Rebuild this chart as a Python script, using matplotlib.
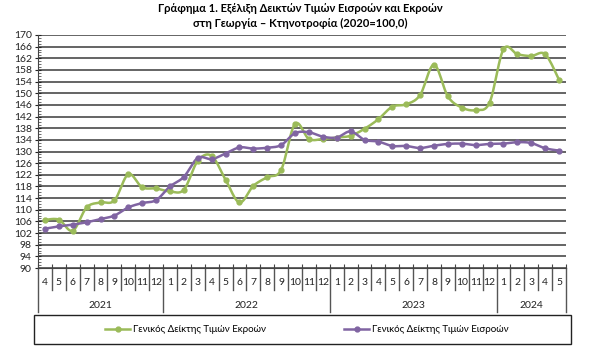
import matplotlib
matplotlib.use("Agg")
import matplotlib.pyplot as plt
import matplotlib.transforms as mtransforms
from matplotlib.patches import Rectangle
import numpy as np

plt.rcParams["font.family"] = ["Lato", "DejaVu Sans"]

# data (2020 = 100)
years = ["2021", "2022", "2023", "2024"]
months_per_year = [list(range(4, 13)), list(range(1, 13)), list(range(1, 13)), list(range(1, 6))]
output_idx = [106.5, 106.6, 102.8, 110.8, 112.5, 113.2, 122.2, 117.7, 117.3,
              116.3, 116.9, 126.8, 128.5, 120.3, 112.5, 118.2, 121.2, 123.7, 139.5, 134.3, 134.3,
              134.8, 135.4, 137.8, 141.1, 145.4, 146.2, 149.4, 159.8, 148.9, 145.1, 144.2, 146.8,
              165.1, 163.4, 162.8, 163.4, 154.6]
input_idx = [103.5, 104.3, 104.9, 105.7, 106.8, 108.0, 110.8, 112.3, 113.3,
             118.0, 121.3, 127.8, 127.4, 129.3, 131.4, 131.0, 131.3, 132.2, 136.3, 136.6, 135.1,
             134.8, 136.9, 134.0, 133.4, 131.9, 131.9, 131.2, 132.0, 132.6, 132.7, 132.2, 132.6,
             132.7, 133.2, 132.9, 131.1, 130.3]
labels = ["Γενικός Δείκτης Τιμών Εκροών", "Γενικός Δείκτης Τιμών Εισροών"]
colors = ["#9BBB59", "#8064A2"]


def smooth(x, y, n=12):
    # Excel-like smoothed line: cubic Bezier through the points (Catmull-Rom tangents)
    x = np.asarray(x, float)
    y = np.asarray(y, float)
    xs, ys = [], []
    for i in range(len(x) - 1):
        x0, y0 = (x[i - 1], y[i - 1]) if i > 0 else (x[i], y[i])
        x3, y3 = (x[i + 2], y[i + 2]) if i + 2 < len(x) else (x[i + 1], y[i + 1])
        p1 = (x[i] + (x[i + 1] - x0) / 6, y[i] + (y[i + 1] - y0) / 6)
        p2 = (x[i + 1] - (x3 - x[i]) / 6, y[i + 1] - (y3 - y[i]) / 6)
        t = np.linspace(0, 1, n, endpoint=False)
        a, b, c, d = (1 - t) ** 3, 3 * (1 - t) ** 2 * t, 3 * (1 - t) * t ** 2, t ** 3
        xs.append(a * x[i] + b * p1[0] + c * p2[0] + d * x[i + 1])
        ys.append(a * y[i] + b * p1[1] + c * p2[1] + d * y[i + 1])
    xs.append([x[-1]])
    ys.append([y[-1]])
    return np.concatenate(xs), np.concatenate(ys)


fig = plt.figure(figsize=(6, 3.61), dpi=100)
ax = fig.add_axes([38 / 600, 1 - 268 / 361, 528 / 600, 233 / 361])

n = len(output_idx)
xpos = np.arange(n)
for vals, col, lab in [(output_idx, colors[0], labels[0]), (input_idx, colors[1], labels[1])]:
    sx, sy = smooth(xpos, vals)
    ax.plot(sx, sy, color=col, lw=1.8, zorder=3)
    ax.plot(xpos, vals, ls="none", marker="o", ms=3.5, color=col, zorder=4)
    ax.plot([], [], color=col, lw=1.8, marker="o", ms=3.5, label=lab)

ax.set_ylim(90, 170)
ax.set_xlim(-0.5, n - 0.5)
ax.set_yticks(range(90, 171, 4))
ax.set_yticks(range(90, 171, 1), minor=True)
ax.yaxis.grid(True, color="#3a3a3a", lw=1.1)
ax.set_axisbelow(True)
ax.tick_params(axis="y", which="major", direction="inout", length=5, labelsize=7.5,
               colors="#222222", pad=2)
ax.tick_params(axis="y", which="minor", direction="in", length=2.5, color="#555555")
for s in ("top", "right"):
    ax.spines[s].set_visible(False)
ax.spines["left"].set_color("#444444")
ax.spines["bottom"].set_color("#444444")

bounds = np.arange(n + 1) - 0.5
ax.set_xticks(bounds)
ax.tick_params(axis="x", direction="in", length=3, labelbottom=False, color="#444444")

trans = mtransforms.blended_transform_factory(ax.transData, ax.transAxes)
month_labels = [m for ms in months_per_year for m in ms]
year_edges = np.cumsum([0] + [len(m) for m in months_per_year]) - 0.5
for xb in bounds:
    depth = 0.189 if xb in year_edges else 0.094
    ax.plot([xb, xb], [0, -depth], color="#555555", lw=1, transform=trans, clip_on=False)
for i, m in enumerate(month_labels):
    ax.text(i, -0.064, str(m), ha="center", va="center", fontsize=7.5,
            color="#222222", transform=trans)
for k, yr in enumerate(years):
    ax.text((year_edges[k] + year_edges[k + 1]) / 2, -0.159, yr, ha="center",
            va="center", fontsize=7.5, color="#222222", transform=trans)

fig.text(0.5, 1 - 8 / 361, "Γράφημα 1. Εξέλιξη Δεικτών Τιμών Εισροών και Εκροών",
         ha="center", va="center", fontsize=8, fontweight="bold")
fig.text(0.5, 1 - 23 / 361, "στη Γεωργία – Κτηνοτροφία (2020=100,0)",
         ha="center", va="center", fontsize=8, fontweight="bold")

fig.patches.append(Rectangle((34 / 600, 1 - 344 / 361), 537 / 600, 29 / 361,
                             transform=fig.transFigure, fill=False, ec="#222222", lw=1))
fig.legend(loc="center", bbox_to_anchor=(307 / 600, 1 - 330 / 361), ncol=2,
           frameon=False, fontsize=7, handlelength=2.6, handletextpad=0.3,
           columnspacing=8)

fig.savefig("out.png", dpi=100, facecolor="white")
